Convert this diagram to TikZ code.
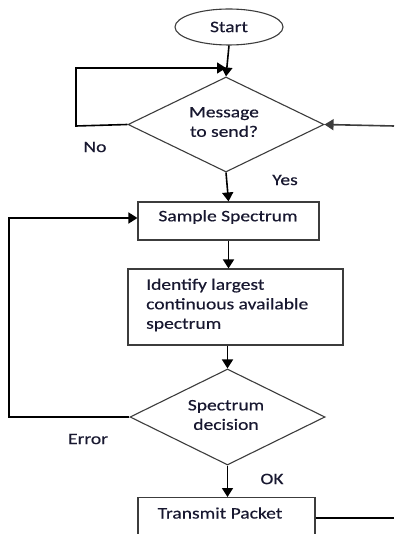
\documentclass[tikz,border=0pt]{standalone}
\usepackage{fontspec}
\setmainfont{Carlito}[FakeStretch=1.22,FakeBold=0.4]
\usetikzlibrary{shapes.geometric,arrows.meta}
\definecolor{txt}{RGB}{24,24,48}
\definecolor{edge}{RGB}{60,60,60}
\begin{document}
\begin{tikzpicture}[x=1pt,y=-1pt,
  every node/.style={font=\fontsize{16}{19.5}\selectfont, text=txt},
  shapebox/.style={draw=edge, line width=1.1pt, inner sep=0pt},
  procbox/.style={shapebox, rectangle},
  decide/.style={shapebox, diamond},
  flow/.style={line width=1.6pt, draw=black, -{Triangle[length=9pt,width=11pt]}},
  plain/.style={line width=1.3pt, draw=black},
  lbl/.style={inner sep=0pt}]
\useasboundingbox (0,0) rectangle (394,534);
\clip (0,0) rectangle (394,534);
\fill[white] (0,0) rectangle (394,534);

\node[shapebox, ellipse, minimum width=108pt, minimum height=36pt] (start) at (229,27) {Start};
\node[decide, minimum width=196pt, minimum height=95pt] (d1) at (226,124.5) {};
\node[lbl, align=center] (d1t) at (224,122) {Message\\to send?};
\node[procbox, minimum width=181pt, minimum height=38pt] (sample) at (228.5,221) {};
\node[lbl] (samplet) at (228,217) {Sample Spectrum};
\node[procbox, minimum width=215pt, minimum height=76pt] (ident) at (235.5,307) {};
\node[lbl, align=left, anchor=west] (identt) at (146,305) {Identify largest\\continuous available\\spectrum};
\node[decide, minimum width=195pt, minimum height=96pt] (d2) at (227.5,417) {};
\node[lbl, align=center] (d2t) at (226,415) {Spectrum\\decision};
\node[procbox, anchor=north, minimum width=177pt, minimum height=60pt] (tx) at (226.5,497) {};
\node[lbl] (txt1) at (220,513) {Transmit Packet};

\node[lbl] (no) at (95,147) {No};
\node[lbl] (yes) at (285,180) {Yes};
\node[lbl] (err) at (88,439) {Error};
\node[lbl] (ok) at (272,479) {OK};

\coordinate (l1a) at (76,126);
\coordinate (l1b) at (76,68);
\coordinate (l1c) at (226,68);
\coordinate (rin) at (394,126);
\coordinate (l2a) at (9,417);
\coordinate (l2b) at (9,218);
\coordinate (tout) at (394,518);

\draw[flow] (start.south) -- (d1.north);
\draw[flow] (d1.west) -- (l1a) -- (l1b) -- (l1c);
\draw[flow, draw=edge] (rin) -- (d1.east);
\draw[flow] (d1.south) -- (sample.north);
\draw[flow] (sample.south) -- (ident.north -| sample.south);
\draw[flow] (ident.south -| d2.north) -- (d2.north);
\draw[flow] (d2.west) -- (l2a) -- (l2b) -- (sample.west |- l2b);
\draw[flow] (d2.south) -- (tx.north -| d2.south);
\draw[plain] (tx.east |- tout) -- (tout);
\end{tikzpicture}
\end{document}
